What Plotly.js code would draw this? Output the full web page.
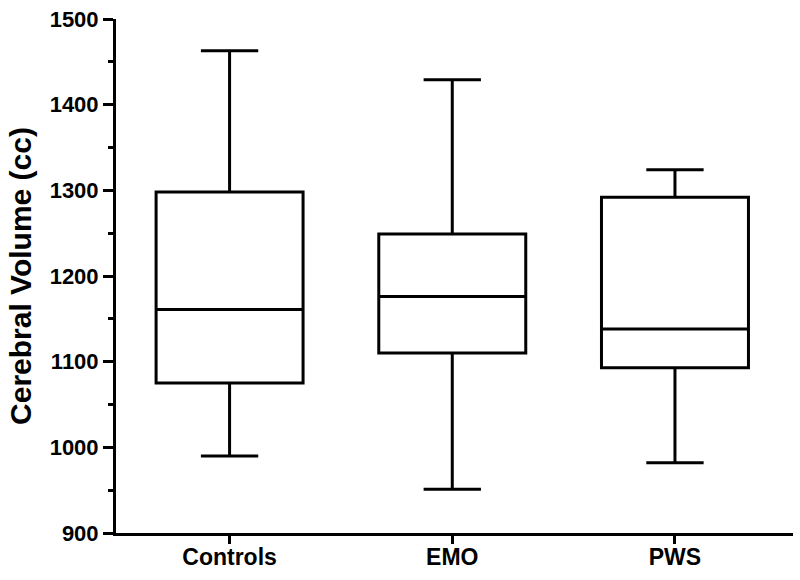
<!DOCTYPE html>
<html>
<head>
<meta charset="utf-8">
<script src="https://cdn.plot.ly/plotly-3.0.1.min.js"></script>
<style>html,body{margin:0;padding:0;background:#fff;}</style>
</head>
<body>
<div id="chart" style="width:800px;height:580px;"></div>
<script>
const groups = ["Controls", "EMO", "PWS"];
const lowerWhisker = [990, 951, 982];
const q1Values = [1075, 1110, 1093];
const medianValues = [1161, 1176, 1138];
const q3Values = [1298, 1249, 1292];
const upperWhisker = [1463, 1429, 1324];
const yTickValues = [900, 1000, 1100, 1200, 1300, 1400, 1500];
const yTitle = "Cerebral Volume (cc)";

const font = "Liberation Sans, Arial, sans-serif";

const trace = {
  type: "box",
  x: groups,
  q1: q1Values,
  median: medianValues,
  q3: q3Values,
  lowerfence: lowerWhisker,
  upperfence: upperWhisker,
  boxpoints: false,
  width: 0.66,
  whiskerwidth: 0.39,
  fillcolor: "rgba(255,255,255,0)",
  line: {color: "#000", width: 3},
  hoverinfo: "skip",
  showlegend: false
};

const layout = {
  width: 800,
  height: 580,
  margin: {l: 116, r: 7, t: 19, b: 47},
  paper_bgcolor: "#fff",
  plot_bgcolor: "#fff",
  font: {family: font, color: "#000"},
  xaxis: {
    type: "category",
    range: [-0.51, 2.53],
    showline: true,
    linecolor: "#000",
    linewidth: 3,
    ticks: "outside",
    ticklen: 8,
    tickwidth: 3,
    tickcolor: "#000",
    showgrid: false,
    zeroline: false,
    ticklabelstandoff: -7,
    tickfont: {family: font, size: 23, weight: "bold", color: "#000"},
    fixedrange: true
  },
  yaxis: {
    range: [900, 1500],
    tickvals: yTickValues,
    ticktext: yTickValues.map(String),
    showline: true,
    linecolor: "#000",
    linewidth: 3,
    ticks: "outside",
    ticklen: 10,
    tickwidth: 3,
    tickcolor: "#000",
    minor: {dtick: 50, ticks: "outside", ticklen: 5, tickwidth: 3, tickcolor: "#000", showgrid: false},
    showgrid: false,
    zeroline: false,
    ticklabelstandoff: 0,
    tickfont: {family: font, size: 22, weight: "bold", color: "#000"},
    title: {text: yTitle, font: {family: font, size: 30, weight: "bold", color: "#000"}, standoff: 10},
    automargin: false,
    fixedrange: true
  }
};

Plotly.newPlot("chart", [trace], layout, {displayModeBar: false, staticPlot: true});
</script>
</body>
</html>
